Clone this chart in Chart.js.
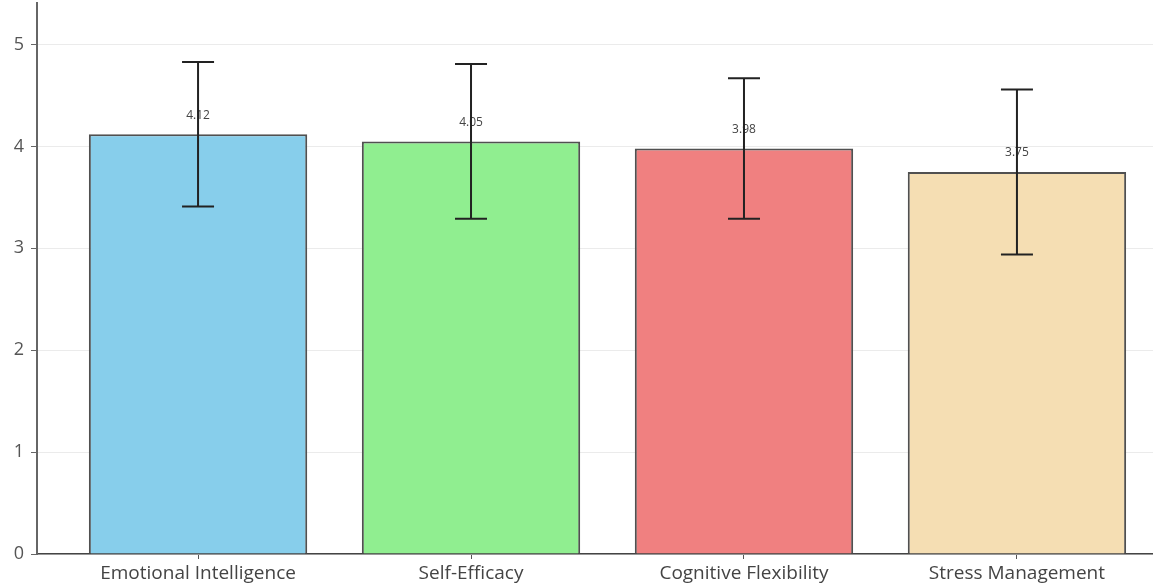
<!DOCTYPE html>
<html>
<head>
<meta charset="utf-8">
<script src="https://cdn.jsdelivr.net/npm/chart.js@4.4.1/dist/chart.umd.min.js"></script>
<style>
  html, body { margin: 0; padding: 0; background: #ffffff; overflow: hidden; width: 1153px; height: 586px; }
  #wrap { position: absolute; left: 0; top: -15px; width: 1182px; height: 601px; }
</style>
</head>
<body>
<div id="wrap"><canvas id="c" width="1182" height="601"></canvas></div>
<script>
const categories = ["Emotional Intelligence", "Self-Efficacy", "Cognitive Flexibility", "Stress Management"];
const means = [4.12, 4.05, 3.98, 3.75];
const stdDevs = [0.71, 0.76, 0.69, 0.81];
const meanLabels = ["4.12", "4.05", "3.98", "3.75"];
const yTicks = [0, 1, 2, 3, 4, 5];
const fillColors = ["#87CEEB", "#90EE90", "#F08080", "#F5DEB3"];

const FONT = "'Open Sans', Roboto, sans-serif";

const errorBarPlugin = {
  id: 'errorBars',
  afterDatasetsDraw(chart) {
    const ctx = chart.ctx;
    const xs = chart.scales.x, ys = chart.scales.y;
    ctx.save();
    ctx.font = "12px " + FONT;
    ctx.fillStyle = "#444444";
    ctx.textAlign = "center";
    ctx.textBaseline = "middle";
    means.forEach((m, i) => {
      const px = xs.getPixelForValue(i);
      ctx.fillText(meanLabels[i], px, ys.getPixelForValue(m) - 19);
    });
    ctx.strokeStyle = "#222222";
    ctx.lineWidth = 2;
    means.forEach((m, i) => {
      const px = xs.getPixelForValue(i);
      const top = ys.getPixelForValue(m + stdDevs[i]);
      const bot = ys.getPixelForValue(m - stdDevs[i]);
      ctx.beginPath();
      ctx.moveTo(px, top); ctx.lineTo(px, bot);
      ctx.moveTo(px - 16, top); ctx.lineTo(px + 16, top);
      ctx.moveTo(px - 16, bot); ctx.lineTo(px + 16, bot);
      ctx.stroke();
    });
    ctx.restore();
  }
};

new Chart(document.getElementById('c'), {
  type: 'bar',
  data: {
    datasets: [{
      data: means.map((v, i) => ({ x: i, y: v })),
      backgroundColor: fillColors,
      borderColor: "#505050",
      borderWidth: 2,
      barPercentage: 0.8,
      categoryPercentage: 1.0
    }]
  },
  options: {
    responsive: false,
    animation: false,
    devicePixelRatio: 1,
    layout: { padding: { left: 0, right: 4, top: 0, bottom: 0 } },
    plugins: { legend: { display: false }, tooltip: { enabled: false } },
    scales: {
      x: {
        type: 'linear',
        offset: false,
        min: -0.59,
        max: 3.59,
        afterBuildTicks(scale) { scale.ticks = categories.map((c, i) => ({ value: i })); },
        afterFit(scale) { scale.height = 32; },
        ticks: {
          autoSkip: false,
          maxRotation: 0,
          padding: 3,
          color: "#444444",
          font: { family: FONT, size: 19 },
          callback: (v) => categories[v] ?? ''
        },
        grid: { offset: false, drawOnChartArea: false, drawTicks: true, tickLength: 5, tickColor: "#555555", tickWidth: 1 },
        border: { display: true, color: "#444444", width: 1.5 }
      },
      y: {
        min: 0,
        max: 554 / 102.4,
        afterBuildTicks(scale) { scale.ticks = yTicks.map(v => ({ value: v })); },
        afterFit(scale) { scale.width = 37; },
        ticks: {
          includeBounds: false,
          padding: 7,
          color: "#555555",
          font: { family: FONT, size: 18 },
          callback: (v) => String(v)
        },
        grid: { color: "#ebebeb", lineWidth: 1, drawTicks: true, tickLength: 6, tickColor: "#666666" },
        border: { display: true, color: "#666666", width: 2 }
      }
    }
  },
  plugins: [errorBarPlugin]
});
</script>
</body>
</html>
